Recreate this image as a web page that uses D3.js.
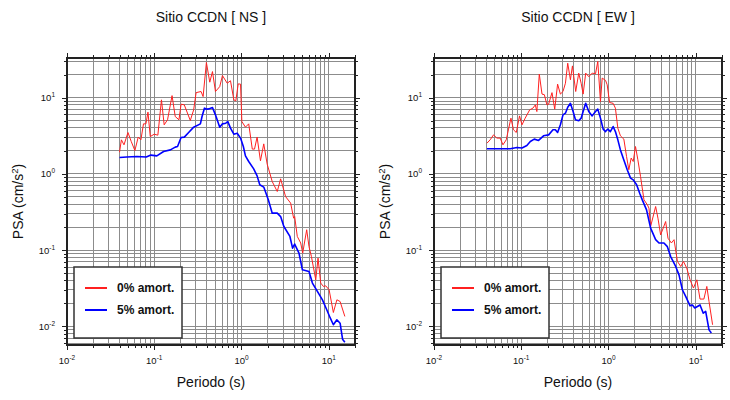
<!DOCTYPE html>
<html>
<head>
<meta charset="utf-8">
<script src="https://cdn.jsdelivr.net/npm/d3@7"></script>
<style>
  html, body { margin: 0; padding: 0; background: #fff; }
  svg { display: block; font-family: "Liberation Sans", Arial, Helvetica, sans-serif; }
</style>
</head>
<body>
<svg id="chart" width="730" height="400"></svg>
<script>
// ---------- DATA ----------
const titles = ["Sitio CCDN [ NS ]", "Sitio CCDN [ EW ]"];
const legendLabels = ["0% amort.", "5% amort."];
const xTickValues = [0.01, 0.1, 1, 10];
const xTickExps = ["-2", "-1", "0", "1"];
const yTickValues = [0.01, 0.1, 1, 10];
const yTickExps = ["-2", "-1", "0", "1"];

// NS, 0% damping
const nsPeriod0 = [0.040,0.042,0.045,0.050,0.0545,0.060,0.0655,0.0703,0.0753,0.0803,0.0847,0.090,0.100,0.110,0.121,0.130,0.142,0.160,0.174,0.192,0.203,0.221,0.259,0.283,0.302,0.344,0.363,0.396,0.433,0.465,0.503,0.563,0.605,0.686,0.748,0.817,0.861,0.917,0.975,1.01,1.11,1.21,1.33,1.41,1.51,1.65,1.80,1.97,2.25,2.57,2.81,3.20,3.66,3.96,4.07,4.36,4.77,5.03,5.59,5.94,6.33,7.10,7.54,8.09,8.69,9.24,10.1,11.3,12.4,13.5,15.3];
const nsPsa0 = [1.92,2.79,2.40,3.48,2.65,2.02,3.03,2.79,4.52,4.52,6.44,3.08,3.31,3.21,9.33,4.39,5.11,10.6,5.64,5.11,8.19,8.02,5.00,6.90,11.6,12.0,10.3,28.8,15.9,21.9,12.0,13.9,19.4,15.4,16.6,9.33,9.05,15.1,15.0,4.84,4.09,4.52,2.11,2.11,3.03,1.48,2.47,1.34,0.793,0.586,0.86,0.503,0.413,0.262,0.275,0.151,0.124,0.0914,0.185,0.111,0.0824,0.0408,0.0785,0.037,0.0334,0.034,0.0302,0.0152,0.0223,0.0212,0.0135];
// NS, 5% damping
const nsPeriod5 = [0.040,0.0485,0.0632,0.0809,0.0916,0.107,0.128,0.153,0.174,0.185,0.203,0.221,0.248,0.283,0.338,0.353,0.376,0.404,0.421,0.465,0.503,0.563,0.605,0.661,0.697,0.748,0.817,0.893,0.975,1.05,1.11,1.21,1.38,1.51,1.62,1.80,2.03,2.25,2.57,2.81,3.06,3.59,3.85,4.07,4.56,4.99,5.94,6.50,7.41,8.47,9.49,10.4,11.3,12.4,13.5,14.4,15.3];
const nsPsa5 = [1.64,1.66,1.69,1.66,1.76,1.72,1.96,2.06,2.24,2.28,2.99,3.03,3.48,4.09,4.52,5.64,7.26,7.05,7.1,7.39,5.93,4.09,4.52,4.61,4.84,3.97,3.31,3.41,2.94,2.28,1.72,1.45,1.16,0.94,0.718,0.67,0.456,0.305,0.305,0.275,0.204,0.151,0.106,0.12,0.0914,0.0552,0.0525,0.037,0.0287,0.0223,0.0165,0.0129,0.0105,0.0122,0.011,0.0068,0.0062];
// EW, 0% damping
const ewPeriod0 = [0.0404,0.044,0.0481,0.0526,0.0574,0.0617,0.0673,0.0715,0.0762,0.0815,0.0877,0.0956,0.102,0.111,0.125,0.136,0.145,0.151,0.161,0.173,0.184,0.197,0.206,0.225,0.242,0.261,0.281,0.301,0.321,0.341,0.366,0.386,0.421,0.456,0.486,0.512,0.548,0.594,0.650,0.710,0.754,0.809,0.847,0.925,0.966,1.03,1.13,1.20,1.28,1.37,1.50,1.61,1.71,1.82,1.92,2.04,2.17,2.33,2.55,2.79,2.91,3.04,3.47,3.69,3.96,4.52,4.81,5.26,5.64,6.17,6.73,7.23,7.89,8.61,9.42,10.3,11.2,12.4,13.4,14.2,15.6];
const ewPsa0 = [2.52,2.79,3.24,2.94,2.94,2.40,2.79,3.86,5.37,3.78,3.48,5.75,4.39,5.37,6.9,7.26,8.02,6.55,20.3,11.1,10.9,8.02,8.19,11.6,7.05,15.0,11.1,12.0,15.4,28.2,17.1,26.0,12.0,20.9,15.4,11.1,20.9,18.8,20.9,20.5,29.7,8.87,18.0,16.8,14.7,8.6,8.4,7.26,3.97,3.15,2.85,1.69,1.13,1.61,1.45,2.28,1.53,0.923,0.456,0.393,0.355,0.204,0.373,0.262,0.158,0.237,0.143,0.124,0.137,0.071,0.061,0.071,0.058,0.0408,0.0318,0.0408,0.0228,0.0228,0.0334,0.0212,0.0105];
// EW, 5% damping
const ewPeriod5 = [0.0404,0.0574,0.0748,0.0893,0.102,0.116,0.127,0.141,0.158,0.180,0.206,0.231,0.246,0.261,0.281,0.301,0.321,0.341,0.366,0.393,0.418,0.456,0.486,0.512,0.548,0.594,0.650,0.710,0.754,0.809,0.869,0.925,0.982,1.05,1.13,1.20,1.28,1.37,1.50,1.64,1.79,1.92,2.10,2.29,2.44,2.73,3.04,3.47,3.79,4.32,4.73,5.16,5.89,6.43,7.03,7.67,8.61,9.16,9.75,11.2,12.2,13.0,14.2,15.1];
const ewPsa5 = [2.13,2.13,2.13,2.21,2.18,2.35,2.65,2.85,2.74,3.15,3.24,3.78,3.78,3.48,4.39,5.93,6.24,7.48,8.4,6.55,5.11,4.96,5.37,6.55,8.4,6.55,5.75,6.55,7.05,5.37,3.86,3.58,3.86,3.58,4.17,3.58,2.79,2.06,1.52,1.13,0.879,0.834,0.718,0.547,0.456,0.337,0.194,0.137,0.124,0.124,0.111,0.0824,0.061,0.0474,0.0302,0.0247,0.0186,0.0191,0.0174,0.0191,0.0149,0.0157,0.009,0.0082];

// ---------- LAYOUT ----------
const W = 288, H = 287;
const panels = [
  {left: 67, top: 58, title: titles[0], p0: nsPeriod0, a0: nsPsa0, p5: nsPeriod5, a5: nsPsa5},
  {left: 434, top: 58, title: titles[1], p0: ewPeriod0, a0: ewPsa0, p5: ewPeriod5, a5: ewPsa5}
];
const xDomain = [0.01, 20];
const yDomain = [0.0057, 33];
const colors = ["#ff2020", "#0000ff"];

const svg = d3.select("#chart");

function minorVals(domain) {
  const out = [];
  for (let e = -4; e <= 3; e++) {
    for (let k = 1; k <= 9; k++) {
      const v = k * Math.pow(10, e);
      if (v >= domain[0] * 0.9999 && v <= domain[1] * 1.0001) out.push(v);
    }
  }
  return out;
}

panels.forEach(p => {
  const x = d3.scaleLog().domain(xDomain).range([0, W]);
  const y = d3.scaleLog().domain(yDomain).range([H, 0]);
  const g = svg.append("g").attr("transform", `translate(${p.left},${p.top})`);

  const xg = minorVals(xDomain);
  const yg = minorVals(yDomain);

  // grid
  const grid = g.append("g").attr("shape-rendering", "crispEdges")
    .attr("stroke", "#8c8c8c").attr("stroke-width", 1);
  grid.selectAll(".gx").data(xg).join("line")
    .attr("x1", d => x(d)).attr("x2", d => x(d)).attr("y1", 0).attr("y2", H);
  grid.selectAll(".gy").data(yg).join("line")
    .attr("y1", d => y(d)).attr("y2", d => y(d)).attr("x1", 0).attr("x2", W);

  // ticks via d3 axes (outside the frame)
  const addAxis = (axisFn, scale, vals, size, tr) => {
    const a = g.append("g").attr("transform", tr)
      .call(axisFn(scale).tickValues(vals).tickSize(size).tickFormat(""));
    a.select(".domain").remove();
    a.selectAll("line").attr("stroke", "#222").attr("stroke-width", 1).attr("shape-rendering", "crispEdges");
  };
  const xMaj = xTickValues, yMaj = yTickValues;
  addAxis(d3.axisBottom, x, xg, 3, `translate(0,${H})`);
  addAxis(d3.axisBottom, x, xMaj, 5, `translate(0,${H})`);
  addAxis(d3.axisTop, x, xg, 3, `translate(0,0)`);
  addAxis(d3.axisTop, x, xMaj, 5, `translate(0,0)`);
  addAxis(d3.axisLeft, y, yg, 3, `translate(0,0)`);
  addAxis(d3.axisLeft, y, yMaj, 5, `translate(0,0)`);
  addAxis(d3.axisRight, y, yg, 3, `translate(${W},0)`);
  addAxis(d3.axisRight, y, yMaj, 5, `translate(${W},0)`);

  // curves
  const line = d3.line().x(d => x(d[0])).y(d => y(d[1]));
  g.append("path").datum(p.p0.map((t, i) => [t, p.a0[i]]))
    .attr("d", line).attr("fill", "none").attr("stroke", colors[0]).attr("stroke-width", 1)
    .attr("stroke-linejoin", "round");
  g.append("path").datum(p.p5.map((t, i) => [t, p.a5[i]]))
    .attr("d", line).attr("fill", "none").attr("stroke", colors[1]).attr("stroke-width", 1.6)
    .attr("stroke-linejoin", "round");

  // frame
  g.append("rect").attr("x", 0).attr("y", 0).attr("width", W).attr("height", H)
    .attr("fill", "none").attr("stroke", "#222").attr("stroke-width", 2);

  // tick labels
  xTickValues.forEach((v, i) => {
    const t = g.append("text").attr("x", x(v)).attr("y", H + 19)
      .attr("text-anchor", "middle").attr("font-size", 9.5).attr("fill", "#111");
    t.append("tspan").text("10");
    t.append("tspan").attr("dy", -4).attr("font-size", 6.5).text(xTickExps[i]);
  });
  yTickValues.forEach((v, i) => {
    const t = g.append("text").attr("x", -12).attr("y", y(v) + 3.5)
      .attr("text-anchor", "end").attr("font-size", 9.5).attr("fill", "#111");
    t.append("tspan").text("10");
    t.append("tspan").attr("dy", -4).attr("font-size", 6.5).text(yTickExps[i]);
  });

  // title
  g.append("text").attr("x", W / 2).attr("y", -36).attr("text-anchor", "middle")
    .attr("font-size", 14).attr("fill", "#111").text(p.title);
  // x label
  g.append("text").attr("x", W / 2).attr("y", H + 42).attr("text-anchor", "middle")
    .attr("font-size", 14).attr("fill", "#111").text("Periodo (s)");
  // y label
  const yl = g.append("text").attr("transform", `translate(-44,${H / 2}) rotate(-90)`)
    .attr("text-anchor", "middle").attr("font-size", 14).attr("fill", "#111");
  yl.append("tspan").text("PSA (cm/s");
  yl.append("tspan").attr("dy", -5).attr("font-size", 9.5).text("2");
  yl.append("tspan").attr("dy", 5).text(")");

  // legend
  const lg = g.append("g").attr("transform", `translate(7,209)`);
  lg.append("rect").attr("width", 108).attr("height", 71)
    .attr("fill", "#fff").attr("stroke", "#333").attr("stroke-width", 1.5);
  legendLabels.forEach((lab, i) => {
    const yy = 21 + i * 22;
    lg.append("line").attr("x1", 11).attr("x2", 33).attr("y1", yy).attr("y2", yy)
      .attr("stroke", colors[i]).attr("stroke-width", 2);
    lg.append("text").attr("x", 43).attr("y", yy + 4).attr("font-size", 12)
      .attr("font-weight", "bold").attr("fill", "#111").text(lab);
  });
});
</script>
</body>
</html>
